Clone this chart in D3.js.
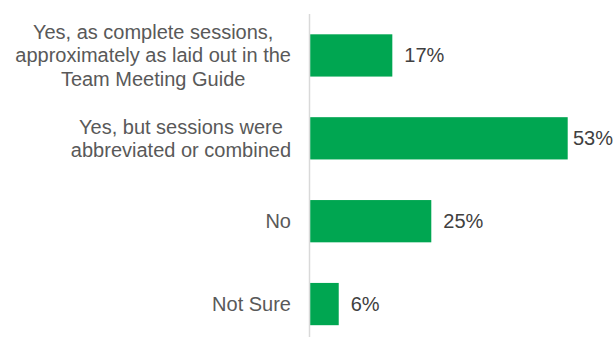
<!DOCTYPE html>
<html><head><meta charset="utf-8">
<script src="https://cdn.jsdelivr.net/npm/d3@7"></script>
<style>body{margin:0;background:#fff}svg{display:block}</style>
</head><body>
<svg id="c" width="615" height="337"></svg>
<script>
const categories = [
  ["Yes, as complete sessions,", "approximately as laid out in the", "Team Meeting Guide"],
  ["Yes, but sessions were", "abbreviated or combined"],
  ["No"],
  ["Not Sure"]
];
const values = [17, 53, 25, 6];
const valueLabels = ["17%", "53%", "25%", "6%"];

const svg = d3.select("#c");
const x0 = 309.5;
const x = d3.scaleLinear().domain([0, 53]).range([x0, 567.7]);
const y = d3.scaleBand().domain(d3.range(values.length)).range([14, 345.5]).paddingInner(0.49).paddingOuter(0.245);

svg.append("line").attr("x1", x0).attr("x2", x0).attr("y1", 14).attr("y2", 337)
  .attr("stroke", "#d9d9d9").attr("stroke-width", 1.5);

svg.selectAll("rect.bar").data(values).enter().append("rect")
  .attr("x", x0 + 0.75).attr("y", (d, i) => y(i))
  .attr("width", d => x(d) - x0 - 0.75).attr("height", y.bandwidth())
  .attr("fill", "#00A651");

svg.selectAll("text.val").data(values).enter().append("text")
  .attr("y", (d, i) => y(i) + y.bandwidth() / 2 + 7)
  .attr("font-family", "Liberation Sans, Arial, sans-serif").attr("font-size", 20)
  .attr("fill", "#404040").text((d, i) => valueLabels[i])
  .attr("x", function (d) {
    const w = this.getComputedTextLength();
    return Math.min(x(d) + 12, 613 - w);
  });

const lh = 23.3;
categories.forEach((lines, i) => {
  const cy = y(i) + y.bandwidth() / 2;
  const t = svg.append("text").attr("text-anchor", "middle")
    .attr("font-family", "Liberation Sans, Arial, sans-serif").attr("font-size", 20)
    .attr("fill", "#595959");
  lines.forEach((s, j) => {
    t.append("tspan").attr("x", 0).attr("y", cy + 7 + (j - (lines.length - 1) / 2) * lh).text(s);
  });
  const bb = t.node().getBBox();
  t.attr("transform", `translate(${291 - bb.width / 2},0)`);
});
</script>
</body></html>
